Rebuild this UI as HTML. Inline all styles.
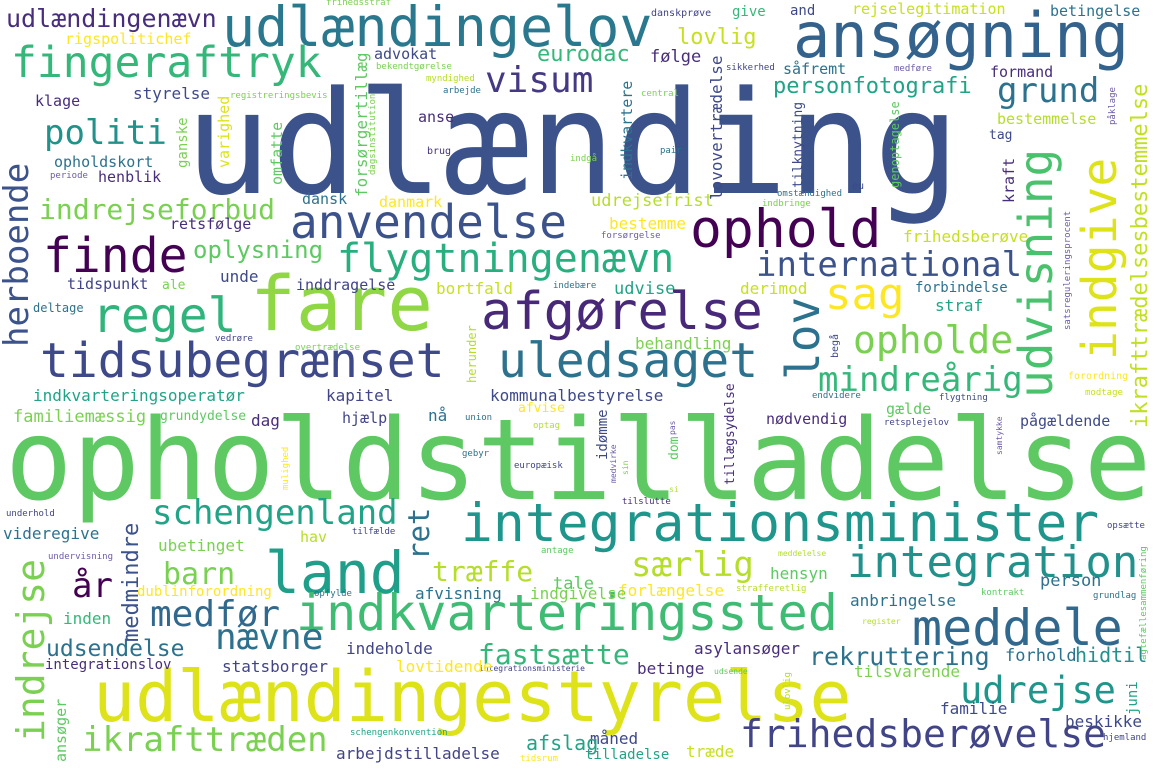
<!DOCTYPE html>
<html><head><meta charset="utf-8"><style>
html,body{margin:0;padding:0;background:#fff;}
#cloud{position:relative;width:1155px;height:770px;overflow:hidden;background:#fff;font-family:"DejaVu Sans Mono","Liberation Mono",monospace;}
#cloud span{position:absolute;white-space:nowrap;line-height:1;}
</style></head><body>
<div id="cloud"></div>
<script>
// horizontal words: text, font size, left x, baseline y, color
const hWords = [
["udlænding",143,185,193,"#3b528b"],
["opholdstilladelse",112,5,500,"#5ec962"],
["udlændingestyrelse",70,93,721,"#dde318"],
["fare",76,250,330,"#8fd744"],
["afgørelse",52,481,330,"#482878"],
["ophold",53,690,248,"#440154"],
["finde",48,43,273,"#440154"],
["regel",48,92,333,"#2fb47c"],
["tidsubegrænset",48,40,378,"#3e4989"],
["uledsaget",48,498,378,"#2c728e"],
["land",58,265,593,"#1f9e89"],
["integrationsminister",53,461,542,"#1f968b"],
["indkvarteringssted",50,296,630,"#3fbc73"],
["meddele",50,912,645,"#31688e"],
["integration",44,847,578,"#21918c"],
["fingeraftryk",43,11,78,"#35b779"],
["ansøgning",62,793,57,"#33638d"],
["udlændingelov",55,222,47,"#2a788e"],
["anvendelse",46,290,238,"#3b528b"],
["flygtningenævn",40,337,273,"#29af7f"],
["sag",44,825,310,"#fde725"],
["opholde",38,853,353,"#7ad151"],
["international",34,756,277,"#3b528b"],
["mindreårig",34,818,392,"#35b779"],
["grund",34,997,103,"#2c728e"],
["visum",36,485,93,"#443983"],
["politi",34,44,145,"#21918c"],
["indrejseforbud",28,39,220,"#7ad151"],
["schengenland",34,152,525,"#20a386"],
["medfør",36,150,627,"#31688e"],
["nævne",36,215,650,"#2c728e"],
["særlig",34,631,577,"#b5de2b"],
["udrejse",37,960,703,"#1f968b"],
["frihedsberøvelse",38,740,747,"#414487"],
["ikrafttræden",34,82,752,"#7ad151"],
["rekruttering",25,809,665,"#2c728e"],
["fastsætte",28,478,665,"#35b779"],
["år",34,72,598,"#440154"],
["barn",30,163,585,"#7ad151"],
["træffe",28,432,582,"#b5de2b"],
["udsendelse",23,46,657,"#2c728e"],
["udlændingenævn",25,6,27,"#472d7b"],
["oplysning",24,193,258,"#5ec962"],
["personfotografi",22,773,95,"#20a386"],
["lovlig",22,677,46,"#c8e020"],
["eurodac",22,537,63,"#35b779"],
["rigspolitichef",15,65,45,"#fde725"],
["frihedsstraf",9,326,7,"#7ad151"],
["advokat",15,374,60,"#3e4989"],
["bekendtgørelse",9,376,71,"#7ad151"],
["myndighed",9,426,83,"#b5de2b"],
["arbejde",9,443,95,"#2c728e"],
["styrelse",16,133,100,"#3e4989"],
["klage",15,35,107,"#472d7b"],
["registreringsbevis",9,230,100,"#7ad151"],
["anse",15,418,123,"#472d7b"],
["brug",10,427,155,"#46337e"],
["opholdskort",15,54,168,"#2c728e"],
["periode",9,50,180,"#6d5ba8"],
["henblik",15,98,183,"#472d7b"],
["dansk",15,302,205,"#2c728e"],
["danmark",15,379,208,"#fde725"],
["retsfølge",15,170,230,"#472d7b"],
["unde",16,220,283,"#3e4989"],
["tidspunkt",15,67,290,"#414487"],
["ale",13,162,290,"#7ad151"],
["inddragelse",15,296,291,"#414487"],
["bortfald",16,436,295,"#c8e020"],
["deltage",12,33,312,"#2c728e"],
["vedrøre",9,215,343,"#414487"],
["overtrædelse",9,295,352,"#7ad151"],
["danskprøve",10,651,17,"#414487"],
["give",14,732,17,"#35b779"],
["and",14,790,16,"#3e4989"],
["rejselegitimation",15,852,15,"#c8e020"],
["betingelse",15,1050,17,"#2c728e"],
["følge",17,650,63,"#472d7b"],
["sikkerhed",9,726,72,"#414487"],
["såfremt",15,783,75,"#2c728e"],
["medføre",9,894,73,"#6d5ba8"],
["formand",15,990,78,"#472d7b"],
["central",9,641,98,"#7ad151"],
["bestemmelse",15,997,125,"#b5de2b"],
["tag",13,989,140,"#3e4989"],
["pair",9,660,155,"#2c728e"],
["indgå",9,570,163,"#7ad151"],
["eu",10,852,190,"#3e4989"],
["omstændighed",9,777,198,"#2c728e"],
["indbringe",9,762,208,"#7ad151"],
["udrejsefrist",17,591,207,"#b5de2b"],
["bestemme",16,609,230,"#fde725"],
["forsørgelse",9,601,240,"#6d5ba8"],
["frihedsberøve",16,903,243,"#c8e020"],
["forbindelse",14,915,293,"#2c728e"],
["udvise",17,614,295,"#20a386"],
["derimod",16,740,295,"#c8e020"],
["indebære",9,553,290,"#2c728e"],
["straf",16,935,312,"#20a386"],
["behandling",16,635,350,"#7ad151"],
["forordning",10,1068,380,"#fde725"],
["endvidere",9,812,400,"#2c728e"],
["flygtning",9,939,402,"#3e4989"],
["modtage",9,1085,397,"#c8e020"],
["gælde",15,886,415,"#5ec962"],
["nødvendig",15,766,425,"#472d7b"],
["retsplejelov",9,884,427,"#414487"],
["pågældende",15,1020,427,"#3e4989"],
["si",8,669,493,"#b5de2b"],
["tilslutte",9,622,506,"#472d7b"],
["opsætte",9,1107,530,"#414487"],
["meddelelse",8,778,557,"#b5de2b"],
["hensyn",16,770,580,"#5ec962"],
["person",17,1040,587,"#2c728e"],
["forlængelse",16,618,597,"#fde725"],
["strafferetlig",9,736,593,"#b5de2b"],
["kontrakt",9,981,597,"#5ec962"],
["grundlag",9,1093,600,"#2c728e"],
["anbringelse",16,850,607,"#2c728e"],
["register",8,862,625,"#b5de2b"],
["asylansøger",16,694,655,"#472d7b"],
["forhold",17,1005,662,"#2c728e"],
["hidtil",20,1075,662,"#21918c"],
["betinge",16,637,675,"#472d7b"],
["udsende",8,714,675,"#5ec962"],
["tilsvarende",16,854,678,"#7ad151"],
["integrationsministerie",8,479,672,"#414487"],
["familie",16,940,715,"#3e4989"],
["beskikke",16,1065,728,"#3e4989"],
["hjemland",9,1103,742,"#414487"],
["måned",16,590,745,"#3e4989"],
["tilladelse",14,585,760,"#20a386"],
["træde",16,686,758,"#c8e020"],
["afslag",20,526,750,"#20a386"],
["tidsrum",9,520,763,"#fde725"],
["indkvarteringsoperatør",16,33,402,"#20a386"],
["kapitel",16,326,402,"#414487"],
["kommunalbestyrelse",16,490,402,"#3e4989"],
["familiemæssig",17,13,423,"#7ad151"],
["grundydelse",13,160,421,"#5ec962"],
["dag",16,251,427,"#472d7b"],
["hjælp",15,342,424,"#414487"],
["nå",16,428,422,"#2c728e"],
["union",9,465,422,"#2c728e"],
["afvise",13,518,413,"#fde725"],
["optag",9,533,430,"#b5de2b"],
["gebyr",9,462,458,"#2c728e"],
["europæisk",9,514,470,"#414487"],
["underhold",9,6,518,"#414487"],
["videregive",16,3,540,"#2c728e"],
["undervisning",9,48,561,"#6d5ba8"],
["hav",15,300,543,"#b5de2b"],
["tilfælde",9,352,536,"#414487"],
["ubetinget",16,158,552,"#7ad151"],
["antage",9,541,555,"#5ec962"],
["tale",17,553,590,"#5ec962"],
["dublinforordning",14,137,597,"#fde725"],
["afvisning",16,415,600,"#2c728e"],
["opfylde",9,314,598,"#2c728e"],
["indgivelse",16,530,600,"#7ad151"],
["inden",16,63,625,"#35b779"],
["indeholde",16,346,655,"#414487"],
["integrationslov",14,45,670,"#472d7b"],
["statsborger",16,222,673,"#414487"],
["lovtidende",16,396,673,"#fde725"],
["schengenkonvention",9,350,737,"#20a386"],
["arbejdstilladelse",16,336,760,"#414487"]
];
// vertical words (read bottom to top): text, font size, left x, bottom y, color
const vWords = [
["herboende",34,3,347,"#3b528b"],
["indrejse",38,15,742,"#7ad151"],
["medmindre",22,123,642,"#3b528b"],
["ret",29,408,560,"#2c728e"],
["ansøger",15,55,762,"#5ec962"],
["udvisning",46,1017,398,"#4ac16d"],
["indgive",48,1080,360,"#dde318"],
["lov",46,784,380,"#2c728e"],
["ikrafttrædelsesbestemmelse",22,1132,428,"#c2df23"],
["forsørgertillæg",16,355,197,"#5ec962"],
["dagsinstitution",9,370,175,"#7ad151"],
["varighed",15,218,168,"#dde318"],
["ganske",14,177,168,"#7ad151"],
["omfatte",15,271,185,"#5ec962"],
["herunder",12,467,383,"#b5de2b"],
["lovovertrædelse",16,710,200,"#3e4989"],
["indkvartere",15,621,180,"#2c728e"],
["påklage",9,1110,125,"#6d5ba8"],
["tilknytning",13,793,188,"#3e4989"],
["genoptagelse",12,890,188,"#5ec962"],
["kraft",15,1003,203,"#472d7b"],
["satsreguleringsprocent",9,1065,330,"#6d5ba8"],
["begå",10,832,358,"#3e4989"],
["idømme",14,597,460,"#3e4989"],
["medvirke",8,611,483,"#6d5ba8"],
["sin",8,623,475,"#7ad151"],
["pas",8,670,435,"#6d5ba8"],
["dom",13,669,460,"#5ec962"],
["tillægsydelse",13,725,485,"#472d7b"],
["samtykke",8,997,455,"#6d5ba8"],
["mulighed",9,283,490,"#fde725"],
["agtefællesammenføring",9,1141,660,"#5ec962"],
["juni",14,1127,715,"#20a386"],
["ulovlig",9,785,710,"#b5de2b"]
];
const cloud = document.getElementById('cloud');
function slug(t){return 'word-' + t.normalize('NFD').replace(/[^\w]/g,'').toLowerCase();}
hWords.forEach(function(w){
  const s = document.createElement('span');
  s.textContent = w[0];
  s.style.fontSize = w[1] + 'px';
  s.style.left = w[2] + 'px';
  s.style.top = (w[3] - 0.846 * w[1]) + 'px';
  s.style.color = w[4];
  
  
  cloud.appendChild(s);
});
vWords.forEach(function(w){
  const s = document.createElement('span');
  s.textContent = w[0];
  s.style.fontSize = w[1] + 'px';
  s.style.left = (w[2] - 0.09 * w[1]) + 'px';
  s.style.top = w[3] + 'px';
  s.style.color = w[4];
  s.style.transformOrigin = '0 0';
  s.style.transform = 'rotate(-90deg)';
  
  
  cloud.appendChild(s);
});
</script>
</body></html>
